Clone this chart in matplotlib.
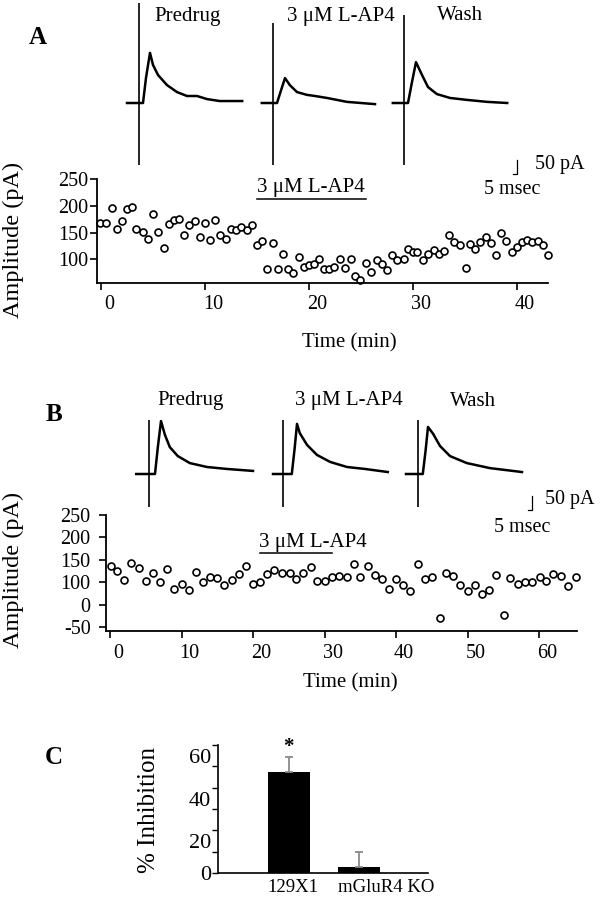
import matplotlib
matplotlib.use('Agg')
import matplotlib.pyplot as plt
import matplotlib.transforms as mtransforms

# ---------------- data ----------------
# Panel A: amplitude time course (min, pA)
a_time = [-0.1, 0.5, 1.0, 1.5, 2.0, 2.5, 3.0, 3.4, 4.0, 4.5,
          5.0, 5.5, 6.0, 6.5, 7.0, 7.5, 8.0, 8.5, 9.0, 9.5,
          10.0, 10.5, 11.0, 11.4, 12.0, 12.5, 13.0, 13.5, 14.0, 14.5,
          15.0, 15.5, 16.0, 16.5, 17.0, 17.5, 18.0, 18.5, 19.0, 19.5,
          20.0, 20.5, 21.0, 21.4, 21.9, 22.4, 23.0, 23.5, 24.0, 24.4,
          24.9, 25.5, 26.0, 26.5, 27.0, 27.5, 28.0, 28.5, 29.1, 29.5,
          30.0, 30.4, 31.0, 31.5, 32.0, 32.5, 33.0, 33.5, 34.0, 34.5,
          35.1, 35.5, 36.0, 36.5, 37.0, 37.5, 38.0, 38.5, 39.0, 39.5,
          40.0, 40.5, 41.0, 41.5, 42.0, 42.5, 43.0]
a_amp = [167, 167, 196, 157, 171, 194, 197, 157, 151, 138,
         185, 152, 121, 166, 173, 175, 146, 164, 172, 141,
         168, 136, 173, 146, 138, 157, 154, 160, 154, 164,
         127, 135, 83, 131, 82, 111, 82, 74, 104, 85,
         89, 91, 100, 83, 83, 86, 101, 84, 101, 69,
         61, 93, 77, 99, 91, 81, 108, 98, 100, 119,
         113, 114, 98, 111, 118, 111, 116, 146, 133, 127,
         84, 129, 119, 133, 141, 130, 108, 150, 135, 114,
         123, 133, 136, 133, 134, 127, 108]
a_drug = (15.0, 25.5)

# Panel B: amplitude time course (min, axis units as drawn)
b_time = [0.1, 1, 2, 3, 4, 5, 6, 7, 8, 9, 10, 11, 12, 13, 14, 15, 16, 17,
          18, 19, 20, 21, 22, 23, 24.1, 25.1, 26, 27, 28.1, 29, 30, 31.1,
          32, 33.1, 34.1, 35, 36.1, 37, 38, 39, 40, 41, 42, 43, 44, 45,
          46.1, 47, 48, 49, 50, 51, 52, 53, 54, 55.1, 56, 57, 58, 59, 60.1,
          61, 62, 63.1, 64.1, 65.1]
b_amp = [137, 125, 105, 144, 133, 104, 122, 100, 129, 86,
         96, 84, 124, 100, 111, 109, 94, 105, 118, 136,
         96, 100, 118, 127, 121, 121, 107, 122, 135, 103,
         103, 111, 114, 111, 142, 111, 137, 116, 107, 85,
         107, 95, 81, 142, 107, 111, 22, 120, 114, 95,
         81, 94, 74, 83, 116, 28, 110, 96, 100, 100,
         112, 103, 118, 115, 92, 111]
b_drug = (21.0, 31.0)
b_ytick_pos = [0, 50, 100, 150, 200, 250]
b_ytick_lbl = ['-50', '0', '100', '150', '200', '250']

# Example EPSC traces (ms from stimulus, pA)
trace_names = ['Predrug', '3 \u03bcM L-AP4', 'Wash']
a_tr_t = [[-15, -2.5, 5, 8.75, 13.75, 17.5, 23.75, 35, 47.5, 60, 72.5, 85, 101, 129],
          [-14, -2.5, 5, 10, 15, 21, 30, 42.5, 52.5, 67.5, 92.5, 127.5],
          [-14, -2.5, 5, 10, 15, 22.5, 30, 41, 57.5, 79, 104, 129]]
a_tr_i = [[0, 0, 0, 90, 179, 136, 100, 64, 39, 25, 25, 14, 7, 7],
          [0, 0, 0, 45, 89, 64, 39, 29, 25, 18, 4, -4],
          [0, 0, 0, 75, 146, 100, 57, 32, 18, 11, 4, 0]]
a_art_hi = [357, 286, 314]
a_art_lo = [-221, -221, -221]

b_tr_t = [[-16, -2.5, 7.5, 11, 15, 20, 26, 36, 51, 72.5, 97.5, 130],
          [-12.5, -2.5, 11, 14.5, 17.5, 21, 30, 42.5, 59, 80, 102.5, 131],
          [-15, -2.5, 6, 9.5, 12.5, 19, 27.5, 40, 61, 90, 130]]
b_tr_i = [[0, 0, 0, 95, 189, 139, 96, 64, 39, 25, 18, 11],
          [0, 0, 0, 90, 179, 146, 104, 68, 43, 25, 18, 7],
          [0, 0, 0, 84, 168, 143, 100, 64, 39, 21, 7]]
b_art_hi = [193, 193, 193]
b_art_lo = [-118, -118, -118]

scale_pa = 50
scale_ms = 5

# Panel C
groups = ['129X1', 'mGluR4 KO']
inhibition = [47.5, 2.8]
inhibition_sem = [7.0, 7.1]

# ---------------- figure ----------------
plt.rcParams['font.family'] = ['Liberation Serif', 'DejaVu Serif']

W, H = 607, 899
fig = plt.figure(figsize=(W / 100, H / 100), dpi=100)


def px_axes(l, t, w, h):
    return fig.add_axes([l / W, 1 - (t + h) / H, w / W, h / H])


def px_text(x, y, s, **kw):
    fig.text(x / W, 1 - y / H, s, **kw)


PA_PER_PX = 50 / 14
MS_PER_PX = 1.25


def draw_trace(art_x, top, height, base_y, t, amp, hi, lo):
    ax = px_axes(art_x - 20, top, 140, height)
    ax.set_xlim(-20 * MS_PER_PX, 120 * MS_PER_PX)
    ax.set_ylim(-(top + height - base_y) * PA_PER_PX, (base_y - top) * PA_PER_PX)
    ax.axis('off')
    ax.plot(t, amp, color='black', lw=1.8, clip_on=False, solid_joinstyle='round')
    ax.vlines(0, lo, hi, color='black', lw=1.2, clip_on=False)
    return ax


def style_axes(ax, lbl_pad):
    for s in ['top', 'right']:
        ax.spines[s].set_visible(False)
    for s in ['left', 'bottom']:
        ax.spines[s].set_linewidth(1.3)
    ax.tick_params(direction='out', length=5, width=1.2, labelsize=14.5)
    ax.tick_params(axis='y', pad=lbl_pad)
    ax.tick_params(axis='x', pad=4)


def shift_xlabels(ax, dx_px):
    off = mtransforms.ScaledTranslation(dx_px / 100, 0, fig.dpi_scale_trans)
    for lbl in ax.get_xticklabels():
        lbl.set_transform(lbl.get_transform() + off)


# ----- Panel A traces -----
a_art_x = [139, 273, 404]
for k in range(3):
    tax = draw_trace(a_art_x[k], 0, 170, 103, a_tr_t[k], a_tr_i[k], a_art_hi[k], a_art_lo[k])
    if k == 2:
        t0 = (517 - a_art_x[k]) * MS_PER_PX
        y0 = (103 - 174) * PA_PER_PX
        tax.plot([t0 - scale_ms, t0, t0], [y0, y0, y0 + scale_pa], color='black',
                 lw=0.9, clip_on=False)
px_text(188, 16, trace_names[0], ha='center', va='center', fontsize=15)
px_text(341, 16, trace_names[1], ha='center', va='center', fontsize=15)
px_text(460, 16, trace_names[2], ha='center', va='center', fontsize=15)
px_text(535, 165, '%d pA' % scale_pa, ha='left', va='center', fontsize=14.5)
px_text(512, 190, '%d msec' % scale_ms, ha='center', va='center', fontsize=14.5)
px_text(38, 37, 'A', ha='center', va='center', fontsize=18, fontweight='bold')

# ----- Panel A time course -----
ax_a = px_axes(97, 179, 451, 104)
ax_a.plot(a_time, a_amp, 'o', mfc='white', mec='black', ms=5, mew=1.2, clip_on=False)
ax_a.set_xlim(-0.4, 43.0)
ax_a.set_ylim(56, 250)
ax_a.set_xticks([0, 10, 20, 30, 40])
ax_a.set_yticks([100, 150, 200, 250])
style_axes(ax_a, 1)
shift_xlabels(ax_a, 8)
ax_a.plot(a_drug, [213, 213], color='black', lw=1.1, clip_on=False)
ax_a.annotate(trace_names[1], xy=(a_drug[0], 213), xytext=(0, 1),
              textcoords='offset points', ha='left', va='bottom', fontsize=15)
px_text(349, 343, 'Time (min)', ha='center', va='center', fontsize=15)
px_text(13, 240, 'Amplitude (pA)', ha='center', va='center', rotation=90, fontsize=17.5)

# ----- Panel B traces -----
b_art_x = [149, 283, 418]
for k in range(3):
    tax = draw_trace(b_art_x[k], 380, 130, 474, b_tr_t[k], b_tr_i[k], b_art_hi[k], b_art_lo[k])
    if k == 2:
        t0 = (532 - b_art_x[k]) * MS_PER_PX
        y0 = (474 - 510) * PA_PER_PX
        tax.plot([t0 - scale_ms, t0, t0], [y0, y0, y0 + scale_pa], color='black',
                 lw=0.9, clip_on=False)
px_text(191, 401, trace_names[0], ha='center', va='center', fontsize=15)
px_text(349, 401, trace_names[1], ha='center', va='center', fontsize=15)
px_text(473, 401, trace_names[2], ha='center', va='center', fontsize=15)
px_text(545, 500, '%d pA' % scale_pa, ha='left', va='center', fontsize=14.5)
px_text(522, 527, '%d msec' % scale_ms, ha='center', va='center', fontsize=14.5)
px_text(54, 415, 'B', ha='center', va='center', fontsize=18, fontweight='bold')

# ----- Panel B time course -----
ax_b = px_axes(106, 515, 471, 116)
ax_b.plot(b_time, b_amp, 'o', mfc='white', mec='black', ms=5, mew=1.2, clip_on=False)
ax_b.set_xlim(-0.56, 65.3)
ax_b.set_ylim(-8, 250)
ax_b.set_xticks([0, 10, 20, 30, 40, 50, 60])
ax_b.set_yticks(b_ytick_pos)
ax_b.set_yticklabels(b_ytick_lbl)
style_axes(ax_b, 6)
shift_xlabels(ax_b, 8)
ax_b.plot(b_drug, [165, 165], color='black', lw=1.1, clip_on=False)
ax_b.annotate(trace_names[1], xy=(b_drug[0] - 0.2, 165), xytext=(0, 1),
              textcoords='offset points', ha='left', va='bottom', fontsize=15)
px_text(350, 683, 'Time (min)', ha='center', va='center', fontsize=15)
px_text(13, 570, 'Amplitude (pA)', ha='center', va='center', rotation=90, fontsize=17.5)

# ----- Panel C -----
ax_c = px_axes(218, 745, 210, 128)
xpos = list(range(len(groups)))
bar_w = 0.6
ax_c.bar(xpos, inhibition, width=bar_w, color='black')
ax_c.errorbar(xpos, inhibition, yerr=[[0, 0], inhibition_sem], fmt='none',
              ecolor='#8a8a8a', elinewidth=1.3, capsize=3, capthick=1.3)
ax_c.text(xpos[0], inhibition[0] + inhibition_sem[0], '*', ha='center', va='bottom',
          fontsize=15, fontweight='bold')
ax_c.set_xlim(-1.01, 1.99)
ax_c.set_ylim(0, 60)
for s in ['top', 'right']:
    ax_c.spines[s].set_visible(False)
for s in ['left', 'bottom']:
    ax_c.spines[s].set_linewidth(1.2)
ax_c.set_xticks([])
ax_c.set_yticks([0, 10, 20, 30, 40, 50, 60])
ax_c.set_yticklabels(['0', '', '20', '', '40', '', '60'])
ax_c.tick_params(axis='y', direction='out', length=4, width=1.0, labelsize=16, pad=1)
off = mtransforms.ScaledTranslation(0, -11 / 100, fig.dpi_scale_trans)
for lbl in ax_c.get_yticklabels()[1:]:
    lbl.set_transform(lbl.get_transform() + off)
for i, g in enumerate(groups):
    ax_c.annotate(g, xy=(xpos[i] - bar_w / 2, 0), xycoords=('data', 'axes fraction'),
                  xytext=(0, -4), textcoords='offset points', ha='left', va='top',
                  fontsize=13.5)
px_text(149, 810, '% Inhibition', ha='center', va='center', rotation=90, fontsize=18)
px_text(54, 757, 'C', ha='center', va='center', fontsize=18, fontweight='bold')

fig.savefig('out.png', dpi=100)
